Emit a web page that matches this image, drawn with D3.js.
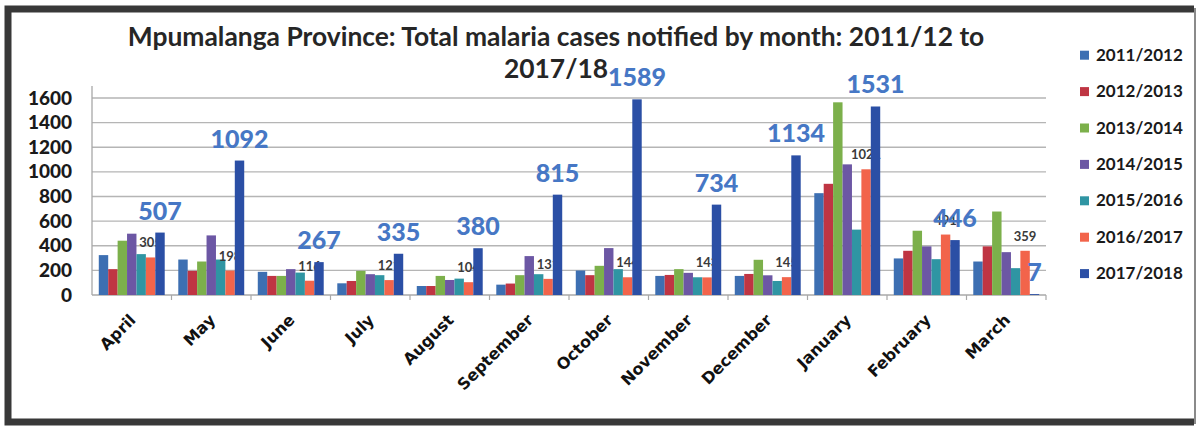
<!DOCTYPE html>
<html>
<head>
<meta charset="utf-8">
<script src="https://cdn.jsdelivr.net/npm/d3@7"></script>
<style>
  html, body { margin: 0; padding: 0; background: #ffffff; }
  svg { display: block; }
</style>
</head>
<body>
<svg id="chart" width="1200" height="428"></svg>
<script>
// Malaria cases notified per month, Mpumalanga, financial years April–March
const months = ["April", "May", "June", "July", "August", "September",
                "October", "November", "December", "January", "February", "March"];
const seasons = ["2011/2012", "2012/2013", "2013/2014", "2014/2015",
                 "2015/2016", "2016/2017", "2017/2018"];

const cases2011 = [324, 288, 188, 95, 73, 84, 199, 155, 155, 827, 297, 272];
const cases2012 = [210, 196, 155, 114, 73, 93, 161, 163, 171, 903, 359, 395];
const cases2013 = [441, 272, 155, 196, 155, 161, 237, 210, 286, 1565, 522, 678];
const cases2014 = [498, 484, 210, 169, 122, 316, 381, 180, 160, 1061, 395, 348];
const cases2015 = [332, 288, 182, 161, 133, 169, 210, 144, 114, 531, 291, 218];
const cases2016 = [305, 198, 116, 121, 104, 131, 144, 143, 145, 1021, 491, 359];
const cases2017 = [507, 1092, 267, 335, 380, 815, 1589, 734, 1134, 1531, 446, 7];

const yTicks = [0, 200, 400, 600, 800, 1000, 1200, 1400, 1600];

const seriesValues = [cases2011, cases2012, cases2013, cases2014,
                      cases2015, cases2016, cases2017];
const seriesColors = ["#3d6fb2", "#bf3543", "#7cb04b", "#6c57a4",
                      "#2f95a3", "#f2644b", "#2b4fa5"];

const titleLines = ["Mpumalanga Province: Total malaria cases notified by month: 2011/12 to",
                    "2017/18"];

const svg = d3.select("#chart");

// page frame
svg.append("rect").attr("x", 0).attr("y", 0).attr("width", 1200).attr("height", 428)
  .attr("fill", "#ffffff");
svg.append("path")
  .attr("d", "M1194,9 H8 V422 H1194")
  .attr("fill", "none").attr("stroke", "#383838").attr("stroke-width", 7);
svg.append("line").attr("x1", 1195).attr("x2", 1195).attr("y1", 8).attr("y2", 424)
  .attr("stroke", "#8a8a8a").attr("stroke-width", 2);

// scales
const x = d3.scaleBand().domain(months).range([92, 1046]);
const xs = d3.scaleBand().domain(seasons).range([0, x.bandwidth()]).paddingOuter(0.72);
const y = d3.scaleLinear().domain([0, 1600]).range([295, 98]);

// gridlines
svg.append("g").selectAll("line").data(yTicks.filter(d => d > 0)).join("line")
  .attr("x1", 92).attr("x2", 1046)
  .attr("y1", d => y(d)).attr("y2", d => y(d))
  .attr("stroke", "#b5b5b5").attr("stroke-width", 1.3);

// value axis
const yAxis = svg.append("g").attr("transform", "translate(92,0)")
  .call(d3.axisLeft(y).tickValues(yTicks).tickFormat(d3.format("d"))
          .tickSize(0).tickPadding(20));
yAxis.select(".domain").remove();
yAxis.selectAll("text")
  .attr("font-family", "Lato, 'Open Sans', sans-serif")
  .attr("font-weight", "900").attr("font-size", 19).attr("fill", "#1a1a1a");
svg.append("line").attr("x1", 92).attr("x2", 92).attr("y1", 86).attr("y2", 295)
  .attr("stroke", "#a8a8a8").attr("stroke-width", 1.3);

// category axis
const xAxis = svg.append("g").attr("transform", "translate(0,295)")
  .call(d3.axisBottom(x).tickSize(0));
xAxis.select(".domain").remove();
xAxis.selectAll("text")
  .attr("font-family", "'DejaVu Sans', sans-serif")
  .attr("font-weight", "bold").attr("font-size", 16).attr("fill", "#111")
  .attr("text-anchor", "end")
  .attr("y", 0).attr("dy", 0)
  .attr("transform", "translate(5,26) rotate(-45)");
svg.append("line").attr("x1", 92).attr("x2", 1046).attr("y1", 295).attr("y2", 295)
  .attr("stroke", "#a8a8a8").attr("stroke-width", 1.3);
svg.append("g").selectAll("line").data(months).join("line")
  .attr("x1", d => x(d) + x.bandwidth())
  .attr("x2", d => x(d) + x.bandwidth())
  .attr("y1", 295).attr("y2", 300)
  .attr("stroke", "#a8a8a8").attr("stroke-width", 1.2);

// bars for one season
function drawSeries(si) {
  svg.append("g").selectAll("rect").data(seriesValues[si]).join("rect")
    .attr("x", (d, i) => x(months[i]) + xs(seasons[si]))
    .attr("width", xs.bandwidth())
    .attr("y", d => y(d))
    .attr("height", d => y(0) - y(d))
    .attr("fill", seriesColors[si]);
}

for (let si = 0; si < 6; si++) drawSeries(si);

// 2016/2017 value labels (partly hidden by the 2017/2018 bars)
svg.append("g").selectAll("text").data(cases2016).join("text")
  .attr("x", (d, i) => x(months[i]) + xs(seasons[5]) + xs.bandwidth() / 2)
  .attr("y", d => y(d) - 10)
  .attr("text-anchor", "middle")
  .attr("font-family", "Lato, sans-serif").attr("font-weight", "bold")
  .attr("font-size", 13).attr("fill", "#3a3a3a")
  .text(d => d);

drawSeries(6);

// 2017/2018 value labels
svg.append("g").selectAll("text").data(cases2017).join("text")
  .attr("x", (d, i) => x(months[i]) + xs(seasons[6]) + xs.bandwidth() / 2)
  .attr("y", d => y(d) - 13)
  .attr("text-anchor", "middle")
  .attr("font-family", "Lato, sans-serif").attr("font-weight", "900")
  .attr("font-size", 25).attr("fill", "#4677c5")
  .text(d => d);

// title
svg.append("g").selectAll("text").data(titleLines).join("text")
  .attr("x", 556).attr("y", (d, i) => 46 + i * 32)
  .attr("text-anchor", "middle")
  .attr("font-family", "Lato, sans-serif").attr("font-weight", "bold")
  .attr("font-size", 26.4).attr("fill", "#262626")
  .text(d => d);

// legend
const legend = svg.append("g").selectAll("g").data(seasons).join("g")
  .attr("transform", (d, i) => `translate(1080,${50.7 + i * 36.4})`);
legend.append("rect").attr("width", 9).attr("height", 9)
  .attr("fill", (d, i) => seriesColors[i]);
legend.append("text").attr("x", 16).attr("y", 10)
  .attr("font-family", "Lato, sans-serif").attr("font-weight", "bold")
  .attr("font-size", 17).attr("fill", "#1a1a1a")
  .text(d => d);
</script>
</body>
</html>
